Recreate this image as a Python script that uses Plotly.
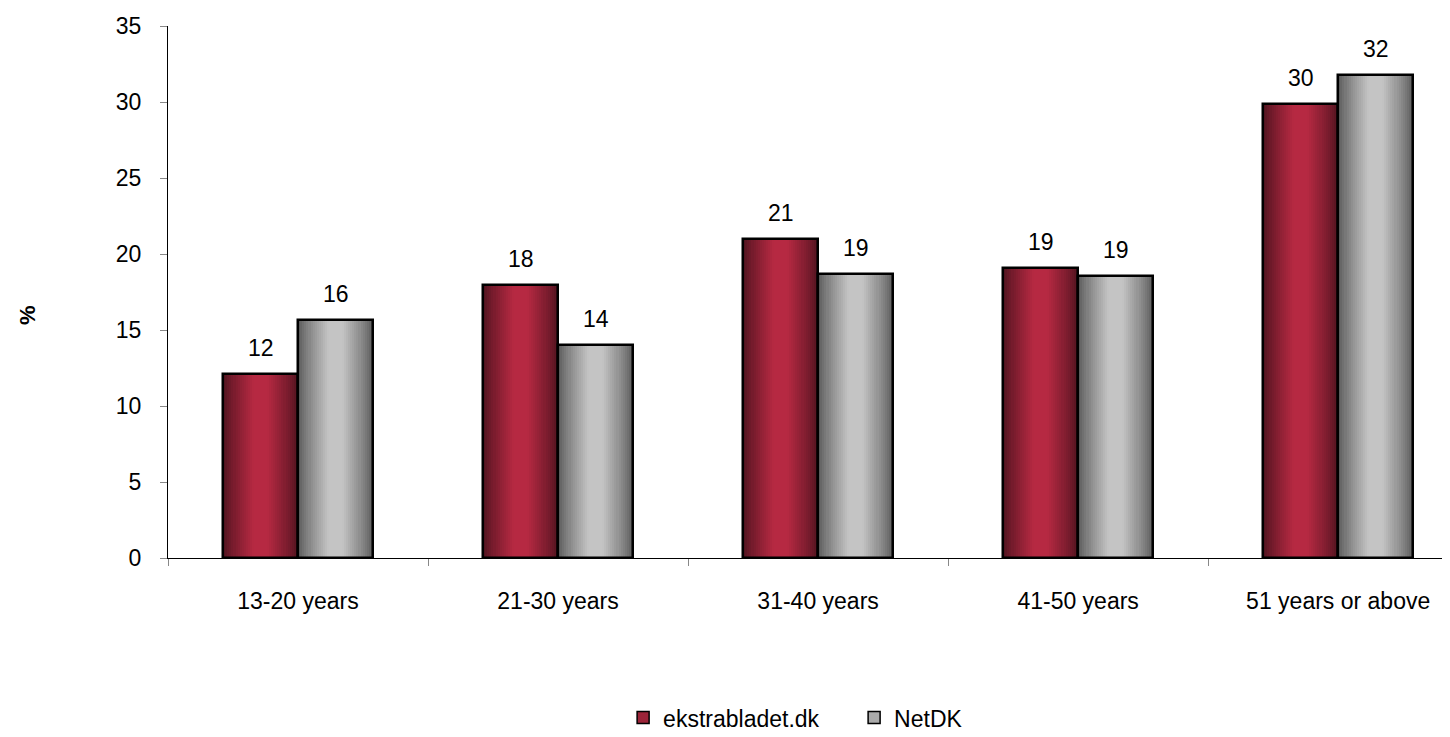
import plotly.graph_objects as go

categories = ["13-20 years", "21-30 years", "31-40 years", "41-50 years", "51 years or above"]
ekstrabladet = [12.1, 17.95, 21.0, 19.1, 29.9]
netdk = [15.65, 14.0, 18.7, 18.55, 31.75]
labels_ekstra = ["12", "18", "21", "19", "30"]
labels_netdk = ["16", "14", "19", "19", "32"]
series_names = ["ekstrabladet.dk", "NetDK"]
y_ticks = [0, 5, 10, 15, 20, 25, 30, 35]

FONT = "Liberation Sans, Arial, sans-serif"
FS = 23
BAR_W = 0.2885
N_LAYERS = 18


def lerp(c1, c2, t):
    return "rgb(%d,%d,%d)" % tuple(round(a + (b - a) * t) for a, b in zip(c1, c2))


series = [
    (ekstrabladet, labels_ekstra, -BAR_W / 2, (80, 19, 31), (182, 41, 66), series_names[0]),
    (netdk, labels_netdk, BAR_W / 2, (90, 90, 90), (196, 196, 196), series_names[1]),
]

fig = go.Figure()
xs = list(range(len(categories)))
annotations = []

for vals, labs, center, edge, mid, name in series:
    for i in range(N_LAYERS):
        frac = i / N_LAYERS
        w = BAR_W * (1 - frac)
        s = min(1.0, frac / 0.8)
        t = s ** 0.8
        fig.add_trace(go.Bar(
            x=xs, y=vals, width=w, offset=center - w / 2,
            marker=dict(color=lerp(edge, mid, t), line=dict(width=0)),
            showlegend=False, hoverinfo="skip",
        ))
    fig.add_trace(go.Bar(
        x=xs, y=vals, width=BAR_W, offset=center - BAR_W / 2,
        marker=dict(color="rgba(0,0,0,0)", line=dict(color="black", width=2.5)),
        showlegend=False, name=name,
    ))
    fig.add_trace(go.Bar(
        x=[None], y=[None], name=name,
        marker=dict(color=lerp(edge, mid, 0.75), line=dict(color="black", width=1.5)),
    ))
    for xi, v, lab in zip(xs, vals, labs):
        annotations.append(dict(
            x=xi + center, y=v, text=lab, showarrow=False, yshift=26,
            yanchor="middle", xanchor="center",
            font=dict(family=FONT, size=FS, color="black"),
        ))

annotations.append(dict(
    xref="paper", yref="paper", x=0, y=0.457, xshift=-140, text="<b>%</b>",
    showarrow=False, textangle=-90, xanchor="center", yanchor="middle",
    font=dict(family=FONT, size=22, color="black"),
))

fig.update_layout(
    width=1442, height=729,
    paper_bgcolor="white", plot_bgcolor="white",
    barmode="overlay", bargap=0,
    margin=dict(l=160, r=0, t=18, b=179, autoexpand=False),
    font=dict(family=FONT, size=FS, color="black"),
    annotations=annotations,
    legend=dict(
        orientation="h", x=0.355, xanchor="left", y=-0.30, yanchor="middle",
        font=dict(family=FONT, size=FS, color="black"),
        entrywidth=186, entrywidthmode="pixels", traceorder="normal",
    ),
    xaxis=dict(
        range=[-0.5, 4.43], tickmode="array", tickvals=xs, ticktext=categories,
        showgrid=False, zeroline=False, showline=True, linecolor="black", linewidth=1,
        ticks="", ticklabelstandoff=22,
        minor=dict(tickmode="array", tickvals=[i - 0.5 for i in range(len(categories) + 1)],
                   ticks="outside", ticklen=7, tickcolor="#888888", tickwidth=1, showgrid=False),
        tickfont=dict(family=FONT, size=FS, color="black"),
        fixedrange=True,
    ),
    yaxis=dict(
        range=[0, 35], tickmode="array", tickvals=y_ticks,
        showgrid=False, zeroline=False, showline=True, linecolor="black", linewidth=1,
        ticks="outside", ticklen=7, tickcolor="#888888", tickwidth=1,
        ticklabelstandoff=14,
        tickfont=dict(family=FONT, size=FS, color="black"),
        automargin=False,
    ),
)

fig.write_html("out.html")
